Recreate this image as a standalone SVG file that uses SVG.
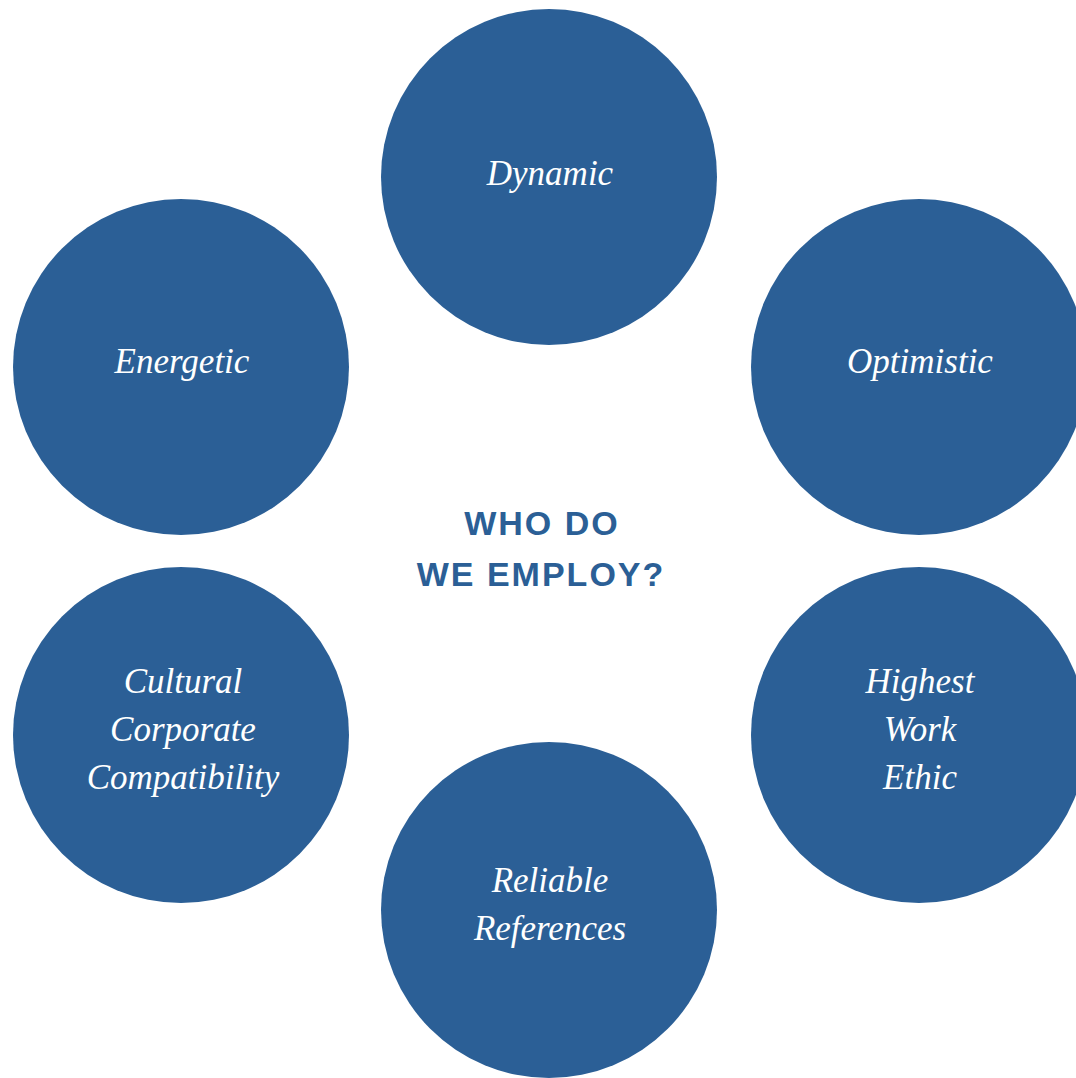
<svg xmlns="http://www.w3.org/2000/svg" width="1076" height="1078" viewBox="0 0 1076 1078">
<style>
.c{fill:#2b5f96}
.t{font-family:"Liberation Serif",serif;font-style:italic;font-size:35px;fill:#ffffff;text-anchor:middle}
.h{font-family:"Liberation Sans",sans-serif;font-weight:bold;font-size:34px;fill:#2b5f96;text-anchor:middle;letter-spacing:2px}
</style>
<rect width="1076" height="1078" fill="#ffffff"/>
<g id="connectors"></g>
<g id="center"><text class="h" x="542" y="535">WHO DO</text><text class="h" x="541" y="586">WE EMPLOY?</text></g>
<g id="dynamic"><circle class="c" cx="549" cy="177" r="168"/><text class="t" x="550" y="185">Dynamic</text></g>
<g id="energetic"><circle class="c" cx="181" cy="367" r="168"/><text class="t" x="182" y="373">Energetic</text></g>
<g id="optimistic"><circle class="c" cx="919" cy="367" r="168"/><text class="t" x="920" y="373">Optimistic</text></g>
<g id="cultural"><circle class="c" cx="181" cy="735" r="168"/><text class="t" x="183" y="693">Cultural</text><text class="t" x="183" y="741">Corporate</text><text class="t" x="183" y="789">Compatibility</text></g>
<g id="highest"><circle class="c" cx="919" cy="735" r="168"/><text class="t" x="920" y="693">Highest</text><text class="t" x="920" y="741">Work</text><text class="t" x="920" y="789">Ethic</text></g>
<g id="reliable"><circle class="c" cx="549" cy="910" r="168"/><text class="t" x="550" y="892">Reliable</text><text class="t" x="550" y="940">References</text></g>
</svg>
